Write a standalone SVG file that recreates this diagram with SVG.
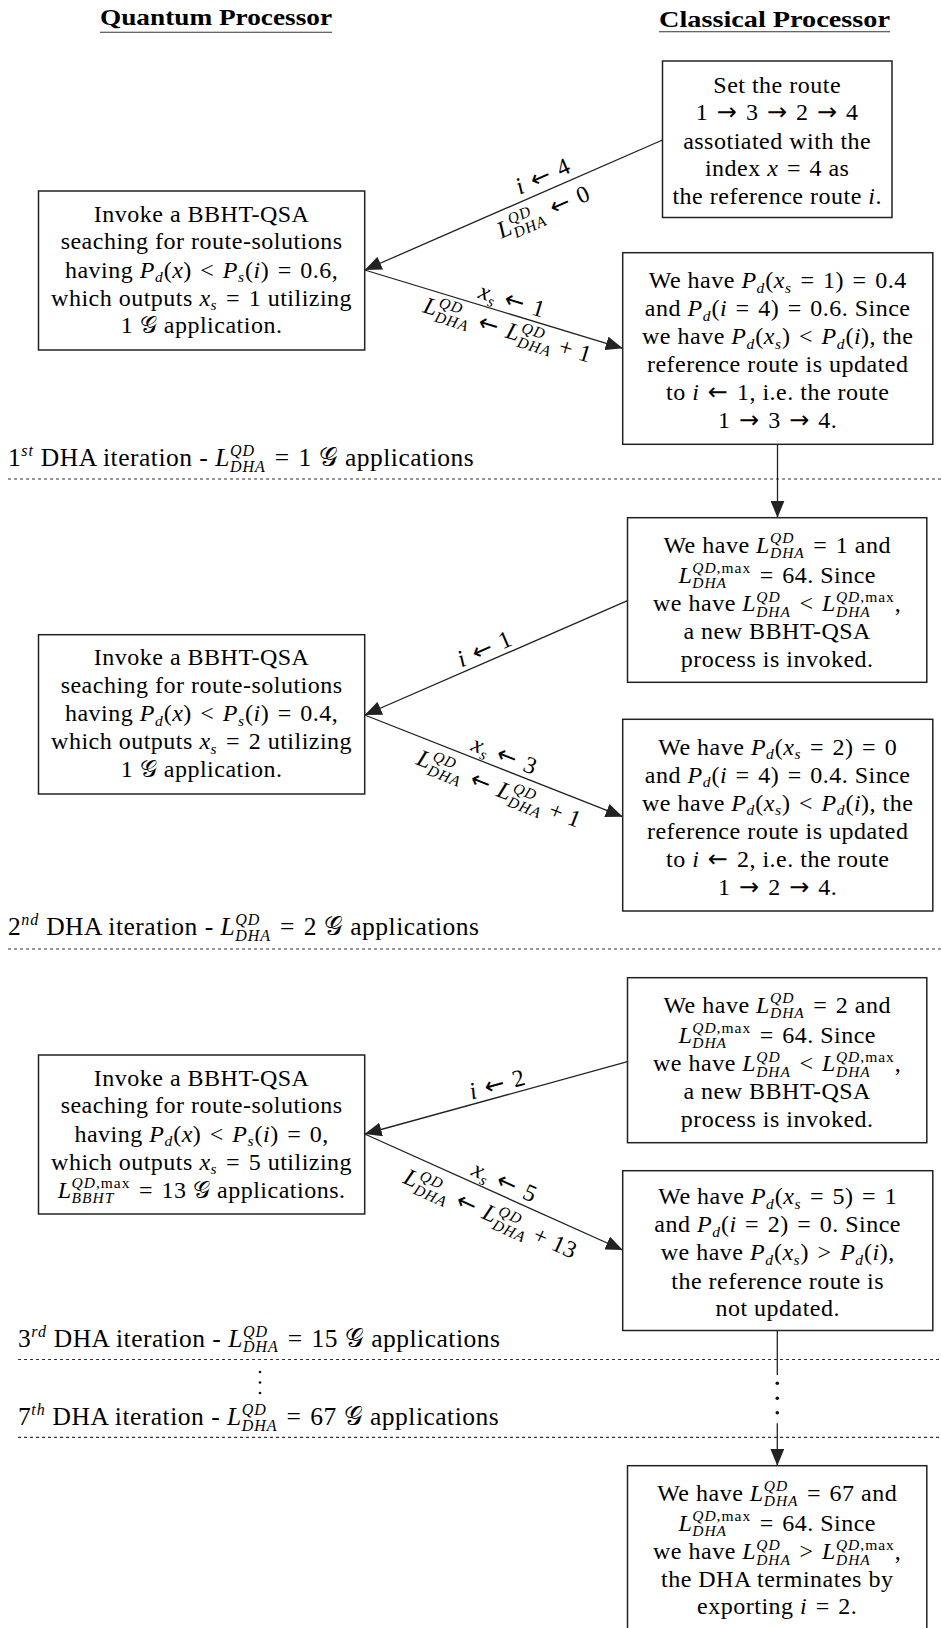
<svg xmlns="http://www.w3.org/2000/svg" width="941" height="1628" viewBox="0 0 941 1628">
<defs>
<style>
.t{font-family:"Liberation Serif","DejaVu Serif",serif;font-size:24px;fill:#000;letter-spacing:0.5px}
.b{font-size:25.5px}
.m{text-anchor:middle}
.i{font-style:italic}
.s{font-size:15.5px;letter-spacing:1px}
.s2{font-size:16px;letter-spacing:1px}
.ar{font-family:"DejaVu Sans",sans-serif;font-style:normal}
.r{letter-spacing:2.5px}
.hd{font-family:"Liberation Serif","DejaVu Serif",serif;font-size:23px;font-weight:bold;fill:#000}
.box{fill:#fff;stroke:#222;stroke-width:1.5}
.cn{stroke:#222;stroke-width:1.3;fill:none}
.dl{stroke:#333;stroke-width:1.2;stroke-dasharray:3 3;fill:none}
.ul{stroke:#333;stroke-width:1.1}
</style>
<marker id="ah" viewBox="0 0 17 14" refX="17" refY="7" markerWidth="17" markerHeight="14" markerUnits="userSpaceOnUse" orient="auto"><path d="M0,0 L17,7 L0,14 Z" fill="#222"/></marker>
</defs>
<rect width="941" height="1628" fill="#fff"/>

<g id="headers">
<text class="hd" x="100" y="25" textLength="232" lengthAdjust="spacingAndGlyphs">Quantum Processor</text>
<line class="ul" x1="100" y1="32.3" x2="332" y2="32.3"/>
<text class="hd" x="659" y="26.5" textLength="231" lengthAdjust="spacingAndGlyphs">Classical Processor</text>
<line class="ul" x1="659" y1="31.7" x2="890" y2="31.7"/>
</g>

<g id="separators">
<line class="dl" x1="8" y1="479" x2="941" y2="479"/>
<line class="dl" x1="8" y1="949" x2="941" y2="949"/>
<line class="dl" x1="18" y1="1359.5" x2="941" y2="1359.5"/>
<line class="dl" x1="18" y1="1437.3" x2="941" y2="1437.3"/>
<text class="t b" x="8" y="466">1<tspan class="s2 i" dy="-10">st</tspan><tspan dy="10"> DHA iteration - </tspan><tspan class="i">L</tspan><tspan class="s2 i" dy="-10">QD</tspan><tspan class="s2 i" dx="-25.1" dy="15.5">DHA</tspan><tspan dy="-5.5"> <tspan class="r" dx="2">=</tspan> 1 </tspan><tspan>𝒢</tspan> applications</text>
<text class="t b" x="8" y="935">2<tspan class="s2 i" dy="-10">nd</tspan><tspan dy="10"> DHA iteration - </tspan><tspan class="i">L</tspan><tspan class="s2 i" dy="-10">QD</tspan><tspan class="s2 i" dx="-25.1" dy="15.5">DHA</tspan><tspan dy="-5.5"> <tspan class="r" dx="2">=</tspan> 2 </tspan><tspan>𝒢</tspan> applications</text>
<text class="t b" x="18" y="1346.7">3<tspan class="s2 i" dy="-10">rd</tspan><tspan dy="10"> DHA iteration - </tspan><tspan class="i">L</tspan><tspan class="s2 i" dy="-10">QD</tspan><tspan class="s2 i" dx="-25.1" dy="15.5">DHA</tspan><tspan dy="-5.5"> <tspan class="r" dx="2">=</tspan> 15 </tspan><tspan>𝒢</tspan> applications</text>
<text class="t b" x="18" y="1425">7<tspan class="s2 i" dy="-10">th</tspan><tspan dy="10"> DHA iteration - </tspan><tspan class="i">L</tspan><tspan class="s2 i" dy="-10">QD</tspan><tspan class="s2 i" dx="-25.1" dy="15.5">DHA</tspan><tspan dy="-5.5"> <tspan class="r" dx="2">=</tspan> 67 </tspan><tspan>𝒢</tspan> applications</text>
<circle cx="260" cy="1372" r="1.3" fill="#111"/>
<circle cx="260" cy="1382.5" r="1.3" fill="#111"/>
<circle cx="260" cy="1393" r="1.3" fill="#111"/>
</g>

<g id="connectors">
<line class="cn" x1="662.5" y1="140" x2="364.7" y2="270" marker-end="url(#ah)"/>
<line class="cn" x1="364.7" y1="270" x2="622.7" y2="348.3" marker-end="url(#ah)"/>
<line class="cn" x1="777.5" y1="444.3" x2="777.5" y2="517.7" marker-end="url(#ah)"/>
<line class="cn" x1="627.5" y1="600.7" x2="364.7" y2="715" marker-end="url(#ah)"/>
<line class="cn" x1="364.7" y1="715" x2="622.7" y2="816.7" marker-end="url(#ah)"/>
<line class="cn" x1="627.5" y1="1061.7" x2="364.7" y2="1134" marker-end="url(#ah)"/>
<line class="cn" x1="364.7" y1="1134" x2="622.7" y2="1250" marker-end="url(#ah)"/>
<line class="cn" x1="777.3" y1="1330.5" x2="777.3" y2="1375"/>
<circle cx="777.3" cy="1383.3" r="1.8" fill="#111"/>
<circle cx="777.3" cy="1398.3" r="1.8" fill="#111"/>
<circle cx="777.3" cy="1412.7" r="1.8" fill="#111"/>
<line class="cn" x1="777.3" y1="1423.3" x2="777.3" y2="1465.7" marker-end="url(#ah)"/>
<text class="t m" transform="translate(546,183.3) rotate(-23.7)"><tspan class="i">i</tspan> <tspan class="ar r" dx="2">←</tspan> 4</text>
<text class="t m" transform="translate(546.6,219) rotate(-23.7)"><tspan class="i">L</tspan><tspan class="s i" dy="-9.5">QD</tspan><tspan class="s i" dx="-24.4" dy="15">DHA</tspan><tspan dy="-5.5"> <tspan class="ar r" dx="2">←</tspan> 0</tspan></text>
<text class="t m" transform="translate(509.9,307.8) rotate(17)"><tspan class="i">x</tspan><tspan class="s i" dy="4.5">s</tspan><tspan dy="-4.5"> <tspan class="ar r" dx="2">←</tspan> 1</tspan></text>
<text class="t m" transform="translate(505.5,337.5) rotate(17)"><tspan class="i">L</tspan><tspan class="s i" dy="-9.5">QD</tspan><tspan class="s i" dx="-24.4" dy="15">DHA</tspan><tspan dy="-5.5"> <tspan class="ar r" dx="2">←</tspan> </tspan><tspan class="i">L</tspan><tspan class="s i" dy="-9.5">QD</tspan><tspan class="s i" dx="-24.4" dy="15">DHA</tspan><tspan dy="-5.5"> + 1</tspan></text>
<text class="t m" transform="translate(487.8,656) rotate(-23.5)"><tspan class="i">i</tspan> <tspan class="ar r" dx="2">←</tspan> 1</text>
<text class="t m" transform="translate(501.7,762.5) rotate(21.5)"><tspan class="i">x</tspan><tspan class="s i" dy="4.5">s</tspan><tspan dy="-4.5"> <tspan class="ar r" dx="2">←</tspan> 3</tspan></text>
<text class="t m" transform="translate(496.5,796) rotate(21.5)"><tspan class="i">L</tspan><tspan class="s i" dy="-9.5">QD</tspan><tspan class="s i" dx="-24.4" dy="15">DHA</tspan><tspan dy="-5.5"> <tspan class="ar r" dx="2">←</tspan> </tspan><tspan class="i">L</tspan><tspan class="s i" dy="-9.5">QD</tspan><tspan class="s i" dx="-24.4" dy="15">DHA</tspan><tspan dy="-5.5"> + 1</tspan></text>
<text class="t m" transform="translate(499.3,1091.8) rotate(-15.4)"><tspan class="i">i</tspan> <tspan class="ar r" dx="2">←</tspan> 2</text>
<text class="t m" transform="translate(501.4,1188.8) rotate(24.2)"><tspan class="i">x</tspan><tspan class="s i" dy="4.5">s</tspan><tspan dy="-4.5"> <tspan class="ar r" dx="2">←</tspan> 5</tspan></text>
<text class="t m" transform="translate(487.4,1220.8) rotate(24.2)"><tspan class="i">L</tspan><tspan class="s i" dy="-9.5">QD</tspan><tspan class="s i" dx="-24.4" dy="15">DHA</tspan><tspan dy="-5.5"> <tspan class="ar r" dx="2">←</tspan> </tspan><tspan class="i">L</tspan><tspan class="s i" dy="-9.5">QD</tspan><tspan class="s i" dx="-24.4" dy="15">DHA</tspan><tspan dy="-5.5"> + 13</tspan></text>
</g>

<g id="nodeA">
<rect class="box" x="662.5" y="61" width="229.5" height="156.5"/>
<text class="t m" x="777.2" y="92.5">Set the route</text>
<text class="t m" x="777.2" y="120">1 <tspan class="ar r" dx="2">→</tspan> 3 <tspan class="ar r" dx="2">→</tspan> 2 <tspan class="ar r" dx="2">→</tspan> 4</text>
<text class="t m" x="777.2" y="148.5">assotiated with the</text>
<text class="t m" x="777.2" y="176">index <tspan class="i">x</tspan> <tspan class="r" dx="2">=</tspan> 4 as</text>
<text class="t m" x="777.2" y="204">the reference route <tspan class="i">i</tspan>.</text>
</g>

<g id="nodeB">
<rect class="box" x="38.5" y="191" width="326.2" height="159"/>
<text class="t m" x="201.6" y="221.5">Invoke a BBHT-QSA</text>
<text class="t m" x="201.6" y="249">seaching for route-solutions</text>
<text class="t m" x="201.6" y="277.5">having <tspan class="i">P</tspan><tspan class="s i" dy="4.5">d</tspan><tspan dy="-4.5">(</tspan><tspan class="i">x</tspan>) <tspan class="r" dx="2">&lt;</tspan> <tspan class="i">P</tspan><tspan class="s i" dy="4.5">s</tspan><tspan dy="-4.5">(</tspan><tspan class="i">i</tspan>) <tspan class="r" dx="2">=</tspan> 0.6,</text>
<text class="t m" x="201.6" y="305.5">which outputs <tspan class="i">x</tspan><tspan class="s i" dy="4.5">s</tspan><tspan dy="-4.5"> <tspan class="r" dx="2">=</tspan> 1 utilizing</tspan></text>
<text class="t m" x="201.6" y="333">1 𝒢 application.</text>
</g>

<g id="nodeC">
<rect class="box" x="622.7" y="252.7" width="310.1" height="191.6"/>
<text class="t m" x="777.7" y="288">We have <tspan class="i">P</tspan><tspan class="s i" dy="4.5">d</tspan><tspan dy="-4.5">(</tspan><tspan class="i">x</tspan><tspan class="s i" dy="4.5">s</tspan><tspan dy="-4.5"> <tspan class="r" dx="2">=</tspan> 1) <tspan class="r" dx="2">=</tspan> 0.4</tspan></text>
<text class="t m" x="777.7" y="316">and <tspan class="i">P</tspan><tspan class="s i" dy="4.5">d</tspan><tspan dy="-4.5">(</tspan><tspan class="i">i</tspan> <tspan class="r" dx="2">=</tspan> 4) <tspan class="r" dx="2">=</tspan> 0.6. Since</text>
<text class="t m" x="777.7" y="344">we have <tspan class="i">P</tspan><tspan class="s i" dy="4.5">d</tspan><tspan dy="-4.5">(</tspan><tspan class="i">x</tspan><tspan class="s i" dy="4.5">s</tspan><tspan dy="-4.5">) <tspan class="r" dx="2">&lt;</tspan> </tspan><tspan class="i">P</tspan><tspan class="s i" dy="4.5">d</tspan><tspan dy="-4.5">(</tspan><tspan class="i">i</tspan>), the</text>
<text class="t m" x="777.7" y="372">reference route is updated</text>
<text class="t m" x="777.7" y="400">to <tspan class="i">i</tspan> <tspan class="ar r" dx="2">←</tspan> 1, i.e. the route</text>
<text class="t m" x="777.7" y="428">1 <tspan class="ar r" dx="2">→</tspan> 3 <tspan class="ar r" dx="2">→</tspan> 4.</text>
</g>

<g id="nodeD">
<rect class="box" x="627.5" y="517.7" width="299.3" height="164.6"/>
<text class="t m" x="777.2" y="552.5">We have <tspan class="i">L</tspan><tspan class="s i" dy="-9.5">QD</tspan><tspan class="s i" dx="-24.4" dy="15">DHA</tspan><tspan dy="-5.5"> <tspan class="r" dx="2">=</tspan> 1 and</tspan></text>
<text class="t m" x="777.2" y="582.5"><tspan class="i">L</tspan><tspan class="s i" dy="5.5">DHA</tspan><tspan class="s" dx="-34.9" dy="-15"><tspan class="i">QD</tspan>,max</tspan><tspan dy="9.5"> <tspan class="r" dx="2">=</tspan> 64. Since</tspan></text>
<text class="t m" x="777.2" y="611">we have <tspan class="i">L</tspan><tspan class="s i" dy="-9.5">QD</tspan><tspan class="s i" dx="-24.4" dy="15">DHA</tspan><tspan dy="-5.5"> <tspan class="r" dx="2">&lt;</tspan> </tspan><tspan class="i">L</tspan><tspan class="s i" dy="5.5">DHA</tspan><tspan class="s" dx="-34.9" dy="-15"><tspan class="i">QD</tspan>,max</tspan><tspan dy="9.5">,</tspan></text>
<text class="t m" x="777.2" y="639">a new BBHT-QSA</text>
<text class="t m" x="777.2" y="667">process is invoked.</text>
</g>

<g id="nodeE">
<rect class="box" x="38.5" y="634.7" width="326.2" height="159.3"/>
<text class="t m" x="201.6" y="665">Invoke a BBHT-QSA</text>
<text class="t m" x="201.6" y="692.5">seaching for route-solutions</text>
<text class="t m" x="201.6" y="721">having <tspan class="i">P</tspan><tspan class="s i" dy="4.5">d</tspan><tspan dy="-4.5">(</tspan><tspan class="i">x</tspan>) <tspan class="r" dx="2">&lt;</tspan> <tspan class="i">P</tspan><tspan class="s i" dy="4.5">s</tspan><tspan dy="-4.5">(</tspan><tspan class="i">i</tspan>) <tspan class="r" dx="2">=</tspan> 0.4,</text>
<text class="t m" x="201.6" y="749">which outputs <tspan class="i">x</tspan><tspan class="s i" dy="4.5">s</tspan><tspan dy="-4.5"> <tspan class="r" dx="2">=</tspan> 2 utilizing</tspan></text>
<text class="t m" x="201.6" y="776.5">1 𝒢 application.</text>
</g>

<g id="nodeF">
<rect class="box" x="622.7" y="719.3" width="310.1" height="191.7"/>
<text class="t m" x="777.7" y="754.6">We have <tspan class="i">P</tspan><tspan class="s i" dy="4.5">d</tspan><tspan dy="-4.5">(</tspan><tspan class="i">x</tspan><tspan class="s i" dy="4.5">s</tspan><tspan dy="-4.5"> <tspan class="r" dx="2">=</tspan> 2) <tspan class="r" dx="2">=</tspan> 0</tspan></text>
<text class="t m" x="777.7" y="782.6">and <tspan class="i">P</tspan><tspan class="s i" dy="4.5">d</tspan><tspan dy="-4.5">(</tspan><tspan class="i">i</tspan> <tspan class="r" dx="2">=</tspan> 4) <tspan class="r" dx="2">=</tspan> 0.4. Since</text>
<text class="t m" x="777.7" y="810.6">we have <tspan class="i">P</tspan><tspan class="s i" dy="4.5">d</tspan><tspan dy="-4.5">(</tspan><tspan class="i">x</tspan><tspan class="s i" dy="4.5">s</tspan><tspan dy="-4.5">) <tspan class="r" dx="2">&lt;</tspan> </tspan><tspan class="i">P</tspan><tspan class="s i" dy="4.5">d</tspan><tspan dy="-4.5">(</tspan><tspan class="i">i</tspan>), the</text>
<text class="t m" x="777.7" y="838.6">reference route is updated</text>
<text class="t m" x="777.7" y="866.6">to <tspan class="i">i</tspan> <tspan class="ar r" dx="2">←</tspan> 2, i.e. the route</text>
<text class="t m" x="777.7" y="894.6">1 <tspan class="ar r" dx="2">→</tspan> 2 <tspan class="ar r" dx="2">→</tspan> 4.</text>
</g>

<g id="nodeG">
<rect class="box" x="627.5" y="977.7" width="299.3" height="165"/>
<text class="t m" x="777.2" y="1012.5">We have <tspan class="i">L</tspan><tspan class="s i" dy="-9.5">QD</tspan><tspan class="s i" dx="-24.4" dy="15">DHA</tspan><tspan dy="-5.5"> <tspan class="r" dx="2">=</tspan> 2 and</tspan></text>
<text class="t m" x="777.2" y="1042.5"><tspan class="i">L</tspan><tspan class="s i" dy="5.5">DHA</tspan><tspan class="s" dx="-34.9" dy="-15"><tspan class="i">QD</tspan>,max</tspan><tspan dy="9.5"> <tspan class="r" dx="2">=</tspan> 64. Since</tspan></text>
<text class="t m" x="777.2" y="1071">we have <tspan class="i">L</tspan><tspan class="s i" dy="-9.5">QD</tspan><tspan class="s i" dx="-24.4" dy="15">DHA</tspan><tspan dy="-5.5"> <tspan class="r" dx="2">&lt;</tspan> </tspan><tspan class="i">L</tspan><tspan class="s i" dy="5.5">DHA</tspan><tspan class="s" dx="-34.9" dy="-15"><tspan class="i">QD</tspan>,max</tspan><tspan dy="9.5">,</tspan></text>
<text class="t m" x="777.2" y="1099">a new BBHT-QSA</text>
<text class="t m" x="777.2" y="1127">process is invoked.</text>
</g>

<g id="nodeH">
<rect class="box" x="38.5" y="1055" width="326.2" height="159"/>
<text class="t m" x="201.6" y="1085.5">Invoke a BBHT-QSA</text>
<text class="t m" x="201.6" y="1113">seaching for route-solutions</text>
<text class="t m" x="201.6" y="1141.5">having <tspan class="i">P</tspan><tspan class="s i" dy="4.5">d</tspan><tspan dy="-4.5">(</tspan><tspan class="i">x</tspan>) <tspan class="r" dx="2">&lt;</tspan> <tspan class="i">P</tspan><tspan class="s i" dy="4.5">s</tspan><tspan dy="-4.5">(</tspan><tspan class="i">i</tspan>) <tspan class="r" dx="2">=</tspan> 0,</text>
<text class="t m" x="201.6" y="1169.5">which outputs <tspan class="i">x</tspan><tspan class="s i" dy="4.5">s</tspan><tspan dy="-4.5"> <tspan class="r" dx="2">=</tspan> 5 utilizing</tspan></text>
<text class="t m" x="201.6" y="1197.5"><tspan class="i">L</tspan><tspan class="s i" dy="5.5">BBHT</tspan><tspan class="s" dx="-42.75" dy="-15"><tspan class="i">QD</tspan>,max</tspan><tspan dy="9.5"> <tspan class="r" dx="2">=</tspan> 13 𝒢 applications.</tspan></text>
</g>

<g id="nodeI">
<rect class="box" x="622.7" y="1170.7" width="310.1" height="159.8"/>
<text class="t m" x="777.7" y="1204">We have <tspan class="i">P</tspan><tspan class="s i" dy="4.5">d</tspan><tspan dy="-4.5">(</tspan><tspan class="i">x</tspan><tspan class="s i" dy="4.5">s</tspan><tspan dy="-4.5"> <tspan class="r" dx="2">=</tspan> 5) <tspan class="r" dx="2">=</tspan> 1</tspan></text>
<text class="t m" x="777.7" y="1232">and <tspan class="i">P</tspan><tspan class="s i" dy="4.5">d</tspan><tspan dy="-4.5">(</tspan><tspan class="i">i</tspan> <tspan class="r" dx="2">=</tspan> 2) <tspan class="r" dx="2">=</tspan> 0. Since</text>
<text class="t m" x="777.7" y="1260">we have <tspan class="i">P</tspan><tspan class="s i" dy="4.5">d</tspan><tspan dy="-4.5">(</tspan><tspan class="i">x</tspan><tspan class="s i" dy="4.5">s</tspan><tspan dy="-4.5">) <tspan class="r" dx="2">&gt;</tspan> </tspan><tspan class="i">P</tspan><tspan class="s i" dy="4.5">d</tspan><tspan dy="-4.5">(</tspan><tspan class="i">i</tspan>),</text>
<text class="t m" x="777.7" y="1288.5">the reference route is</text>
<text class="t m" x="777.7" y="1316">not updated.</text>
</g>

<g id="nodeJ">
<rect class="box" x="627.5" y="1465.7" width="299.3" height="200"/>
<text class="t m" x="777.2" y="1500.5">We have <tspan class="i">L</tspan><tspan class="s i" dy="-9.5">QD</tspan><tspan class="s i" dx="-24.4" dy="15">DHA</tspan><tspan dy="-5.5"> <tspan class="r" dx="2">=</tspan> 67 and</tspan></text>
<text class="t m" x="777.2" y="1530.5"><tspan class="i">L</tspan><tspan class="s i" dy="5.5">DHA</tspan><tspan class="s" dx="-34.9" dy="-15"><tspan class="i">QD</tspan>,max</tspan><tspan dy="9.5"> <tspan class="r" dx="2">=</tspan> 64. Since</tspan></text>
<text class="t m" x="777.2" y="1559">we have <tspan class="i">L</tspan><tspan class="s i" dy="-9.5">QD</tspan><tspan class="s i" dx="-24.4" dy="15">DHA</tspan><tspan dy="-5.5"> <tspan class="r" dx="2">&gt;</tspan> </tspan><tspan class="i">L</tspan><tspan class="s i" dy="5.5">DHA</tspan><tspan class="s" dx="-34.9" dy="-15"><tspan class="i">QD</tspan>,max</tspan><tspan dy="9.5">,</tspan></text>
<text class="t m" x="777.2" y="1587">the DHA terminates by</text>
<text class="t m" x="777.2" y="1614">exporting <tspan class="i">i</tspan> <tspan class="r" dx="2">=</tspan> 2.</text>
</g>
</svg>
